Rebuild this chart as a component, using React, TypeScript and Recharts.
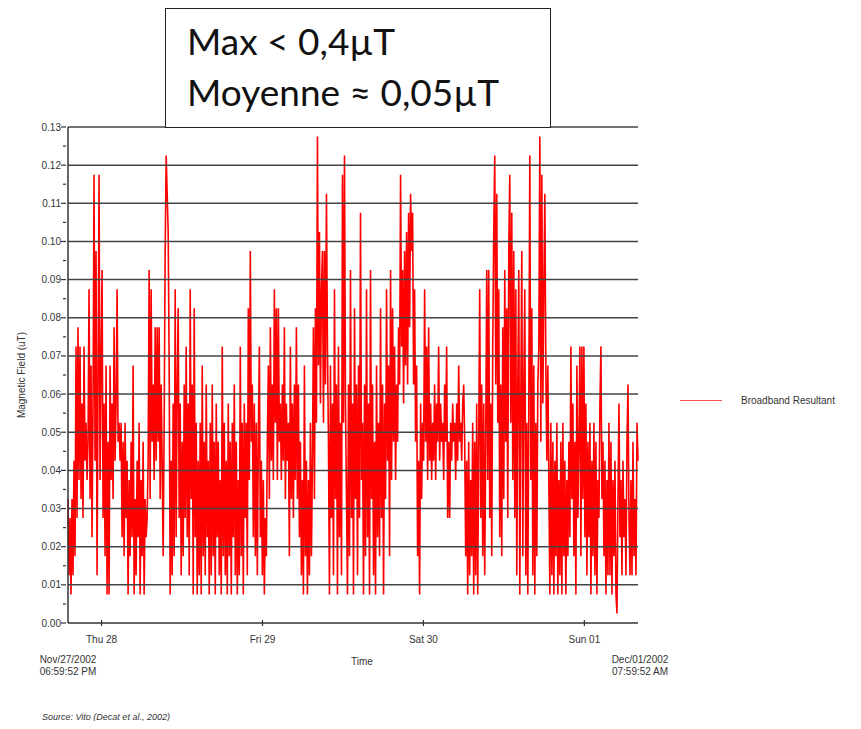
import React from "react";
import { LineChart, Line, XAxis, YAxis, ReferenceLine } from "recharts";

// Broadband resultant, µT, one reading every ~9 min from Nov/27 06:59:52 PM
const fieldPartA = [
  0.0325, 0.0125, 0.0275, 0.0075, 0.0325, 0.0125, 0.0425, 0.0175, 0.0725, 0.0275,
  0.0775, 0.0375, 0.0725, 0.0325, 0.0575, 0.0275, 0.0725, 0.0425, 0.0525, 0.0375,
  0.0475, 0.0875, 0.0325, 0.0675, 0.0225, 0.0575, 0.1175, 0.0425, 0.0975, 0.0125,
  0.0625, 0.1175, 0.0375, 0.0675, 0.0925, 0.0275, 0.0575, 0.0175, 0.0675, 0.0075,
  0.0475, 0.0075, 0.0675, 0.0375, 0.0575, 0.0325, 0.0775, 0.0425, 0.0575, 0.0875,
  0.0475, 0.0525, 0.0425, 0.0525, 0.0225, 0.0475, 0.0175, 0.0525, 0.0275, 0.0425,
  0.0075, 0.0375, 0.0175, 0.0475, 0.0225, 0.0675, 0.0075, 0.0325, 0.0125, 0.0425,
  0.0225, 0.0525, 0.0075, 0.0375, 0.0175, 0.0475, 0.0075, 0.0325, 0.0225, 0.0275,
  0.0425, 0.0925, 0.0325, 0.0875, 0.0475, 0.0625, 0.0375, 0.0775, 0.0425, 0.0775,
  0.0475, 0.0775, 0.0325, 0.0625, 0.0425, 0.0175, 0.0525, 0.0975, 0.1225, 0.1125,
  0.1025, 0.0675, 0.0075, 0.0425, 0.0125, 0.0575, 0.0175, 0.0875, 0.0225, 0.0625,
  0.0825, 0.0275, 0.0575, 0.0125, 0.0475, 0.0175, 0.0625, 0.0275, 0.0725, 0.0225,
  0.0575, 0.0125, 0.0875, 0.0325, 0.0625, 0.0075, 0.0825, 0.0225, 0.0525, 0.0075,
  0.0425, 0.0125, 0.0525, 0.0075, 0.0675, 0.0175, 0.0475, 0.0125, 0.0625, 0.0225,
];
const fieldPartB = [
  0.0425, 0.0075, 0.0525, 0.0125, 0.0625, 0.0175, 0.0475, 0.0075, 0.0575, 0.0225,
  0.0475, 0.0125, 0.0375, 0.0075, 0.0725, 0.0175, 0.0525, 0.0125, 0.0425, 0.0075,
  0.0575, 0.0175, 0.0475, 0.0075, 0.0525, 0.0225, 0.0625, 0.0125, 0.0475, 0.0075,
  0.0375, 0.0125, 0.0725, 0.0175, 0.0525, 0.0075, 0.0575, 0.0275, 0.0525, 0.0125,
  0.0825, 0.0375, 0.0975, 0.0475, 0.0625, 0.0225, 0.0575, 0.0175, 0.0525, 0.0125,
  0.0475, 0.0725, 0.0225, 0.0425, 0.0125, 0.0375, 0.0075, 0.0275, 0.0175, 0.0475,
  0.0675, 0.0325, 0.0775, 0.0425, 0.0625, 0.0375, 0.0875, 0.0525, 0.0825, 0.0375,
  0.0825, 0.0475, 0.0575, 0.0375, 0.0625, 0.0425, 0.0775, 0.0325, 0.0575, 0.0425,
  0.0525, 0.0175, 0.0725, 0.0325, 0.0575, 0.0275, 0.0625, 0.0375, 0.0775, 0.0325,
  0.0625, 0.0225, 0.0475, 0.0125, 0.0375, 0.0075, 0.0675, 0.0175, 0.0425, 0.0075,
  0.0375, 0.0125, 0.0525, 0.0175, 0.0425, 0.0775, 0.0325, 0.0825, 0.0525, 0.1275,
  0.0675, 0.1025, 0.0575, 0.0875, 0.0975, 0.0525, 0.0975, 0.0625, 0.1125, 0.0725,
  0.0475, 0.0075, 0.0675, 0.0275, 0.0575, 0.0125, 0.0875, 0.0325, 0.0625, 0.0075,
  0.0725, 0.0225, 0.0525, 0.0125, 0.1175, 0.0525, 0.1225, 0.0575, 0.0325, 0.0075,
];
const fieldPartC = [
  0.0625, 0.0175, 0.0925, 0.0275, 0.0575, 0.0075, 0.0825, 0.0325, 0.0625, 0.0125,
  0.0675, 0.0275, 0.1075, 0.0375, 0.0525, 0.0075, 0.0625, 0.0175, 0.0875, 0.0225,
  0.0575, 0.0075, 0.0925, 0.0325, 0.0625, 0.0125, 0.0475, 0.0075, 0.0675, 0.0225,
  0.0525, 0.0175, 0.0825, 0.0275, 0.0625, 0.0075, 0.0575, 0.0325, 0.0875, 0.0425,
  0.0675, 0.0175, 0.0925, 0.0375, 0.0825, 0.0475, 0.0725, 0.0375, 0.0625, 0.0475,
  0.0775, 0.0625, 0.1175, 0.0725, 0.0925, 0.0575, 0.0975, 0.0675, 0.1025, 0.0625,
  0.1075, 0.0775, 0.1125, 0.0975, 0.1075, 0.0625, 0.0875, 0.0475, 0.0675, 0.0175,
  0.0425, 0.0075, 0.0575, 0.0325, 0.0525, 0.0425, 0.0875, 0.0475, 0.0725, 0.0375,
  0.0775, 0.0425, 0.0575, 0.0375, 0.0525, 0.0425, 0.0625, 0.0375, 0.0575, 0.0475,
  0.0725, 0.0425, 0.0575, 0.0475, 0.0525, 0.0375, 0.0625, 0.0475, 0.0725, 0.0275,
  0.0475, 0.0275, 0.0525, 0.0425, 0.0575, 0.0475, 0.0525, 0.0375, 0.0575, 0.0425,
  0.0675, 0.0475, 0.0525, 0.0425, 0.0575, 0.0625, 0.0475, 0.0175, 0.0425, 0.0075,
  0.0475, 0.0125, 0.0375, 0.0175, 0.0525, 0.0075, 0.0475, 0.0125, 0.0575, 0.0075,
  0.0475, 0.0875, 0.0275, 0.0625, 0.0175, 0.0575, 0.0125, 0.0475, 0.0925, 0.0375,
];
const fieldPartD = [
  0.0925, 0.0275, 0.0575, 0.0175, 0.0725, 0.1025, 0.1225, 0.0625, 0.1125, 0.0525,
  0.0875, 0.0225, 0.0625, 0.0175, 0.0775, 0.0325, 0.0925, 0.0475, 0.0825, 0.0275,
  0.0975, 0.1175, 0.0525, 0.1075, 0.0375, 0.0975, 0.0275, 0.0875, 0.0125, 0.0625,
  0.0925, 0.0075, 0.0575, 0.0975, 0.0175, 0.0625, 0.0875, 0.0125, 0.0525, 0.0075,
  0.0575, 0.1225, 0.0375, 0.0825, 0.0125, 0.0675, 0.0075, 0.0525, 0.0175, 0.0625,
  0.0725, 0.1275, 0.0475, 0.1175, 0.0575, 0.0875, 0.1125, 0.0675, 0.0425, 0.0675,
  0.0375, 0.0075, 0.0525, 0.0125, 0.0475, 0.0075, 0.0425, 0.0175, 0.0525, 0.0075,
  0.0375, 0.0125, 0.0475, 0.0075, 0.0525, 0.0175, 0.0425, 0.0075, 0.0375, 0.0175,
  0.0475, 0.0225, 0.0725, 0.0325, 0.0575, 0.0175, 0.0475, 0.0075, 0.0675, 0.0275,
  0.0475, 0.0725, 0.0175, 0.0725, 0.0325, 0.0725, 0.0225, 0.0575, 0.0125, 0.0475,
  0.0225, 0.0525, 0.0075, 0.0425, 0.0175, 0.0525, 0.0125, 0.0475, 0.0075, 0.0375,
  0.0275, 0.0575, 0.0725, 0.0325, 0.0475, 0.0175, 0.0425, 0.0075, 0.0375, 0.0125,
  0.0525, 0.0125, 0.0475, 0.0075, 0.0375, 0.0175, 0.0425, 0.0075, 0.0025, 0.0325,
  0.0575, 0.0225, 0.0375, 0.0125, 0.0425, 0.0225, 0.0325, 0.0125, 0.0475, 0.0625,
  0.0275, 0.0125, 0.0375, 0.0125, 0.0475, 0.0175, 0.0325, 0.0125, 0.0525, 0.0425,
];

// hours from Nov/27 06:59:52 PM to Dec/01 07:59:52 AM
const spanHours = 85;
const dayTicks = [5.0022, 29.0022, 53.0022, 77.0022];
const dayLabels = ["Thu 28", "Fri 29", "Sat 30", "Sun 01"];

const majorTicks = [0, 0.01, 0.02, 0.03, 0.04, 0.05, 0.06, 0.07, 0.08, 0.09, 0.1, 0.11, 0.12, 0.13];
const minorTicks = [0.005, 0.015, 0.025, 0.035, 0.045, 0.055, 0.065, 0.075, 0.085, 0.095, 0.105, 0.115, 0.125];

const readings = [...fieldPartA, ...fieldPartB, ...fieldPartC, ...fieldPartD];
const data = readings.map((v, i) => ({
  t: (i * spanHours) / (readings.length - 1),
  field: v,
}));

const axisFont = "'Liberation Sans', Arial, sans-serif";
const inkColor = "#333";

const YTick = (props: any) => {
  const { x, y, payload } = props;
  const major = majorTicks.includes(payload.value);
  const axisX = x + 6;
  return (
    <g>
      <line x1={axisX - (major ? 5 : 3)} x2={axisX} y1={y} y2={y} stroke={inkColor} strokeWidth={1.2} />
      {major && (
        <text x={axisX - 5} y={y} dy={3.5} textAnchor="end" fontSize={10} fontFamily={axisFont} fill={inkColor}>
          {payload.value.toFixed(2)}
        </text>
      )}
    </g>
  );
};

const XTick = (props: any) => {
  const { x, y, payload } = props;
  const idx = dayTicks.indexOf(payload.value);
  const axisY = y - 8;
  return (
    <g>
      <line x1={x} x2={x} y1={axisY - 3} y2={axisY + 3} stroke={inkColor} strokeWidth={1.2} />
      <text x={x} y={axisY + 20} textAnchor="middle" fontSize={10} fontFamily={axisFont} fill={inkColor}>
        {dayLabels[idx]}
      </text>
    </g>
  );
};

const smallText: React.CSSProperties = {
  position: "absolute",
  fontFamily: axisFont,
  fontSize: 10,
  color: inkColor,
  lineHeight: "12px",
  textAlign: "center",
  whiteSpace: "nowrap",
};

export default function App() {
  return (
    <div style={{ position: "relative", width: 845, height: 713 }}>
      <LineChart
        width={845}
        height={680}
        data={data}
        margin={{ top: 119, right: 215, bottom: 15, left: 0 }}
      >
        <XAxis
          dataKey="t"
          type="number"
          domain={[0, spanHours]}
          ticks={dayTicks}
          interval={0}
          height={50}
          tick={<XTick />}
          tickLine={false}
          axisLine={{ stroke: inkColor, strokeWidth: 1.5 }}
        />
        <YAxis
          type="number"
          domain={[0, 0.13]}
          ticks={[...majorTicks, ...minorTicks].sort((a, b) => a - b)}
          interval={0}
          width={60}
          tick={<YTick />}
          tickLine={false}
          axisLine={{ stroke: inkColor, strokeWidth: 1.5 }}
        />
        <Line
          type="linear"
          dataKey="field"
          stroke="#ff0000"
          strokeWidth={1.6}
          dot={false}
          isAnimationActive={false}
        />
        {majorTicks.slice(1).map((v) => (
          <ReferenceLine key={v} y={v} stroke="#444" strokeWidth={1.5} ifOverflow="extendDomain" />
        ))}
      </LineChart>

      {/* axis titles and range annotations */}
      <div
        style={{
          ...smallText,
          left: 14 - 60,
          top: 361,
          width: 120,
          transform: "rotate(-90deg)",
        }}
      >
        Magnetic Field (uT)
      </div>
      <div style={{ ...smallText, left: 20, top: 646, width: 80 }}>
        Nov/27/2002
        <br />
        06:59:52 PM
      </div>
      <div style={{ ...smallText, left: 592, top: 646, width: 80 }}>
        Dec/01/2002
        <br />
        07:59:52 AM
      </div>
      <div style={{ ...smallText, left: 324, top: 648, width: 60 }}>Time</div>

      {/* legend */}
      <div style={{ position: "absolute", left: 672, top: 387, display: "flex", alignItems: "center" }}>
        <div style={{ width: 42, height: 0, borderTop: "1.5px solid #ff5050" }} />
        <span style={{ fontFamily: axisFont, fontSize: 10, color: inkColor, marginLeft: 19 }}>
          Broadband Resultant
        </span>
      </div>

      {/* summary box */}
      <div
        style={{
          position: "absolute",
          left: 157,
          top: 0,
          width: 386,
          height: 120,
          border: "1.5px solid #222",
          background: "#fff",
          fontFamily: "Lato, 'Open Sans', sans-serif",
          fontSize: 37,
          lineHeight: "51px",
          color: "#111",
          paddingLeft: 21,
          paddingTop: 6,
          boxSizing: "border-box",
        }}
      >
        <div>Max &lt; 0,4µT</div>
        <div>Moyenne ≈ 0,05µT</div>
      </div>

      <div
        style={{
          position: "absolute",
          left: 34,
          top: 704,
          fontFamily: axisFont,
          fontSize: 9,
          fontStyle: "italic",
          color: inkColor,
        }}
      >
        Source: Vito (Decat et al., 2002)
      </div>
    </div>
  );
}
